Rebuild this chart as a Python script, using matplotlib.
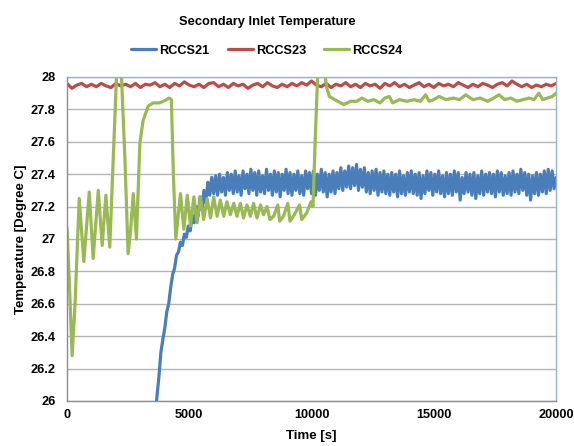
import numpy as np
import matplotlib
matplotlib.use("Agg")
import matplotlib.pyplot as plt

plt.rcParams['font.family'] = ['Liberation Sans', 'DejaVu Sans']
plt.rcParams['font.weight'] = 'bold'

# RCCS21 - sampled every 80 s from 3600 s (below 26 before that)
blue_start = 3600
blue_step = 80
blue_vals = [
    25.90, 26.03, 26.15, 26.30, 26.38, 26.45, 26.55, 26.60, 26.70, 26.78,
    26.82, 26.90, 26.92, 26.98, 26.96, 27.03, 27.01, 27.08, 27.05, 27.14,
    27.10, 27.20, 27.14, 27.26, 27.18, 27.30, 27.22, 27.35, 27.27, 27.38,
    27.28, 27.39, 27.27, 27.40, 27.29, 27.38, 27.27, 27.41, 27.30, 27.40,
    27.28, 27.42, 27.29, 27.39, 27.27, 27.42, 27.31, 27.40, 27.28, 27.43,
    27.30, 27.41, 27.27, 27.42, 27.29, 27.39, 27.28, 27.43, 27.30, 27.40,
    27.27, 27.42, 27.29, 27.41, 27.26, 27.40, 27.30, 27.43, 27.28, 27.41,
    27.27, 27.40, 27.30, 27.42, 27.28, 27.39, 27.27, 27.42, 27.31, 27.41,
    27.28, 27.42, 27.27, 27.40, 27.30, 27.43, 27.29, 27.41, 27.26, 27.40,
    27.29, 27.42, 27.28, 27.41, 27.31, 27.44, 27.30, 27.42, 27.32, 27.45,
    27.31, 27.44, 27.33, 27.46, 27.30, 27.43, 27.32, 27.44, 27.29, 27.41,
    27.28, 27.42, 27.30, 27.43, 27.27, 27.41, 27.29, 27.42, 27.28, 27.40,
    27.27, 27.41, 27.29, 27.40, 27.26, 27.42, 27.28, 27.39, 27.27, 27.41,
    27.29, 27.42, 27.28, 27.40, 27.27, 27.41, 27.25, 27.39, 27.28, 27.42,
    27.30, 27.41, 27.27, 27.40, 27.29, 27.42, 27.28, 27.39, 27.26, 27.41,
    27.28, 27.40, 27.27, 27.42, 27.29, 27.41, 27.24, 27.38, 27.28, 27.41,
    27.29, 27.40, 27.27, 27.41, 27.25, 27.39, 27.28, 27.42, 27.27, 27.40,
    27.29, 27.41, 27.28, 27.40, 27.26, 27.42, 27.29, 27.41, 27.27, 27.39,
    27.28, 27.41, 27.27, 27.42, 27.29, 27.40, 27.28, 27.43, 27.30, 27.41,
    27.27, 27.40, 27.24, 27.39, 27.28, 27.41, 27.27, 27.40, 27.29, 27.42,
    27.28, 27.43, 27.30, 27.42, 27.31, 27.38,
]

# RCCS23 - sampled every 200 s
red_step = 200
red_vals = [
    27.96, 27.93, 27.95, 27.96, 27.94, 27.955, 27.94, 27.96, 27.945, 27.935,
    27.96, 27.945, 27.955, 27.94, 27.96, 27.935, 27.955, 27.95, 27.965, 27.94,
    27.955, 27.935, 27.96, 27.945, 27.97, 27.95, 27.94, 27.955, 27.935, 27.96,
    27.965, 27.94, 27.955, 27.935, 27.96, 27.945, 27.955, 27.93, 27.95, 27.96,
    27.94, 27.965, 27.945, 27.935, 27.955, 27.94, 27.96, 27.945, 27.965, 27.95,
    27.975, 27.95, 27.94, 27.96, 27.935, 27.955, 27.945, 27.965, 27.94, 27.955,
    27.935, 27.96, 27.945, 27.955, 27.93, 27.96, 27.945, 27.965, 27.94, 27.955,
    27.935, 27.95, 27.965, 27.94, 27.955, 27.935, 27.96, 27.945, 27.955, 27.94,
    27.965, 27.95, 27.935, 27.955, 27.94, 27.96, 27.95, 27.935, 27.955, 27.965,
    27.945, 27.975, 27.955, 27.94, 27.955, 27.935, 27.95, 27.94, 27.955, 27.945,
    27.96,
]

# RCCS24 - turning points
green_t = [
    0, 100, 210, 330, 500, 690, 910, 1070, 1280, 1440,
    1590, 1750, 1890, 2030, 2130, 2230, 2370, 2500, 2600, 2710,
    2840, 2980, 3110, 3320, 3520, 3790, 4070, 4180, 4270, 4350,
    4450, 4640, 4780, 4920, 5050, 5190, 5320, 5460, 5590, 5730,
    5870, 6000, 6140, 6270, 6410, 6540, 6680, 6820, 6950, 7090,
    7220, 7360, 7500, 7630, 7770, 7910, 8040, 8180, 8300, 8450,
    8620, 8700, 8850, 9030, 9120, 9300, 9510, 9600, 9800, 9980,
    10060, 10150, 10260, 10400, 10530, 10630, 10730, 10950, 11320, 11600,
    11850, 12060, 12300, 12550, 12800, 13000, 13180, 13320, 13600, 13900,
    14200, 14450, 14670, 14810, 15000, 15220, 15500, 15800, 16050, 16310,
    16600, 16900, 17200, 17450, 17670, 17900, 18150, 18400, 18650, 18900,
    19100, 19300, 19450, 19650, 19850, 20000,
]
green_vals = [
    27.07, 26.72, 26.28, 26.60, 27.25, 26.86, 27.29, 26.88, 27.30, 26.96,
    27.27, 26.95, 27.49, 28.02, 28.20, 28.00, 27.49, 26.91, 27.05, 27.28,
    27.00, 27.59, 27.73, 27.82, 27.84, 27.84, 27.86, 27.87, 27.86, 27.40,
    27.00, 27.28, 27.06, 27.27, 27.08, 27.26, 27.10, 27.26, 27.12, 27.25,
    27.13, 27.26, 27.14, 27.24, 27.14, 27.23, 27.15, 27.22, 27.14, 27.22,
    27.13, 27.21, 27.14, 27.22, 27.13, 27.21, 27.15, 27.20, 27.12, 27.14,
    27.21, 27.11, 27.14, 27.22, 27.11, 27.15, 27.21, 27.12, 27.16, 27.23,
    27.20, 27.60, 28.05, 28.15, 28.03, 27.93, 27.88, 27.86, 27.83, 27.85,
    27.85, 27.87, 27.85, 27.86, 27.84, 27.87, 27.88, 27.84, 27.86, 27.85,
    27.86, 27.85, 27.89, 27.85, 27.86, 27.88, 27.86, 27.87, 27.86, 27.89,
    27.86, 27.87, 27.85, 27.87, 27.89, 27.86, 27.87, 27.85, 27.86, 27.87,
    27.86, 27.90, 27.86, 27.87, 27.88, 27.90,
]

blue_t = blue_start + blue_step * np.arange(len(blue_vals))
red_t = red_step * np.arange(len(red_vals))

fig = plt.figure(figsize=(5.74, 4.46), dpi=100)
ax = fig.add_axes([0.1167, 0.1009, 0.852, 0.7265])

line_kw = dict(lw=2.3, solid_joinstyle='round', solid_capstyle='round')
ax.plot(blue_t, blue_vals, color='#4A7EBB', label='RCCS21', **line_kw)
ax.plot(red_t, red_vals, color='#BE4B48', label='RCCS23', **line_kw)
ax.plot(green_t, green_vals, color='#98B954', label='RCCS24', **line_kw)

ax.set_xlim(0, 20000)
ax.set_ylim(26, 28)
ax.set_xticks([0, 5000, 10000, 15000, 20000])
ax.set_yticks(np.arange(26, 28.01, 0.2))
ax.set_yticklabels(['26', '26.2', '26.4', '26.6', '26.8', '27',
                    '27.2', '27.4', '27.6', '27.8', '28'])
ax.tick_params(length=0, labelsize=9.2, pad=8)
ax.tick_params(axis='x', pad=6)
ax.yaxis.grid(True, color='#B4B4B4', lw=1.0)
ax.set_axisbelow(True)

for s in ['left', 'bottom']:
    ax.spines[s].set_color('#8C8C8C')
    ax.spines[s].set_linewidth(1.0)
for s in ['top', 'right']:
    ax.spines[s].set_color('#95B3D7')
    ax.spines[s].set_linewidth(1.0)

ax.set_xlabel('Time [s]', fontsize=9.5, fontweight='bold', labelpad=6)
ax.set_ylabel('Temperature [Degree C]', fontsize=9.5, fontweight='bold', labelpad=3)

fig.text(0.465, 0.951, 'Secondary Inlet Temperature', ha='center', va='center',
         fontsize=9.3, fontweight='bold')
fig.legend(loc='center', bbox_to_anchor=(0.465, 0.886), ncol=3, frameon=False,
           fontsize=9.2, handlelength=1.95, handletextpad=0.25, columnspacing=1.4)

fig.savefig('out.png', dpi=100)
